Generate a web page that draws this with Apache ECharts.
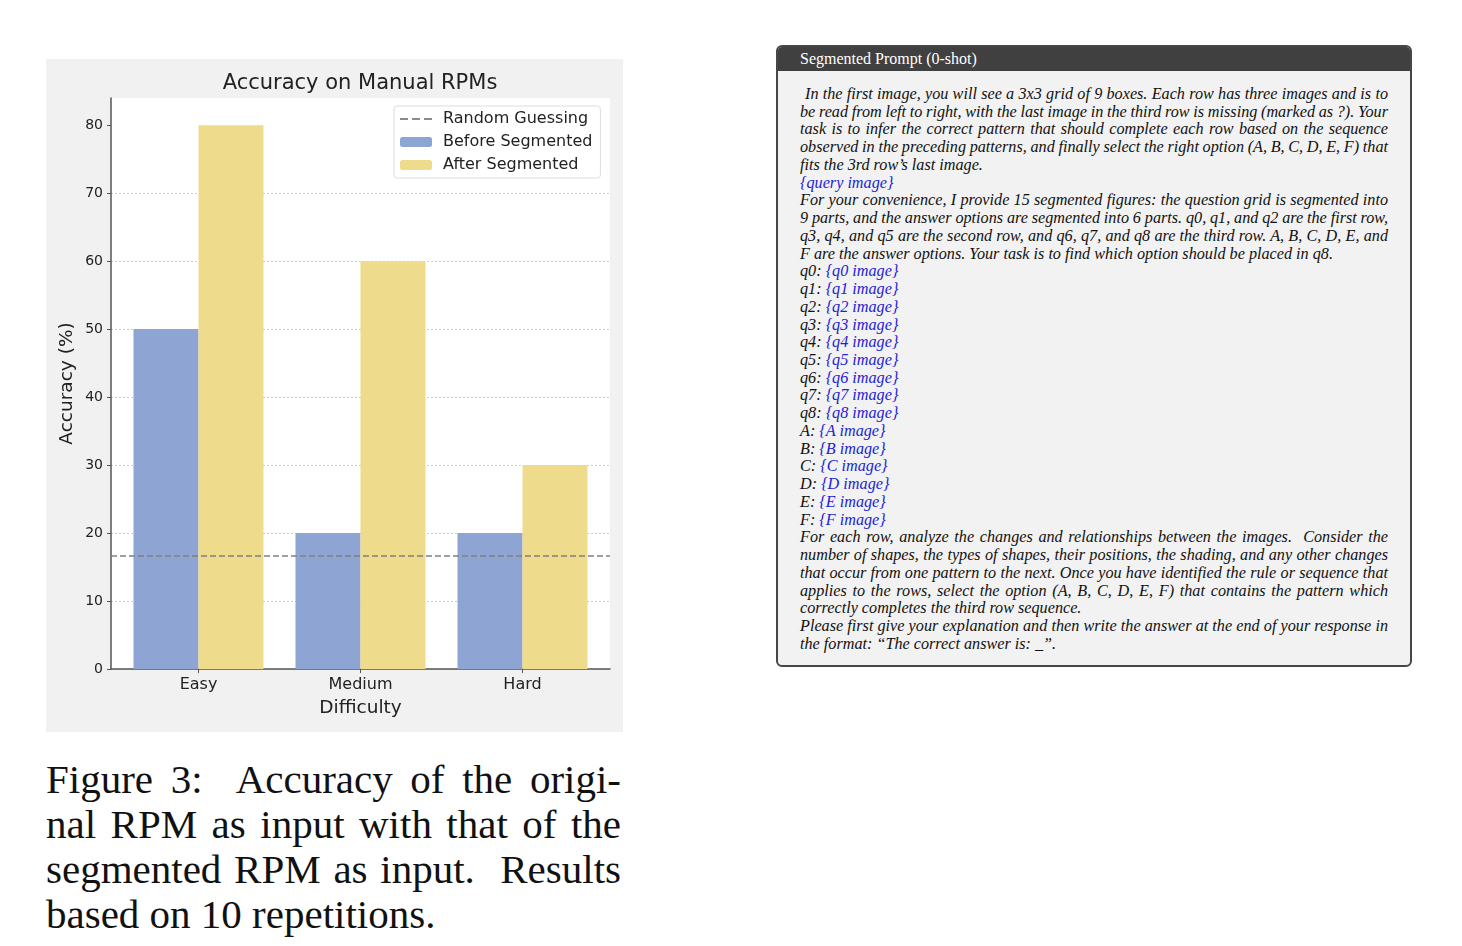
<!DOCTYPE html>
<html>
<head>
<meta charset="utf-8">
<script src="https://cdn.jsdelivr.net/npm/echarts@6/dist/echarts.min.js"></script>
<style>
  html, body { margin: 0; padding: 0; background: #ffffff; width: 1462px; height: 946px; overflow: hidden; }
  #chart { position: absolute; left: 46px; top: 59px; width: 577px; height: 673px; }
  #caption { position: absolute; left: 46px; top: 757px; width: 575px; font-family: "Liberation Serif", "Times New Roman", serif; font-size: 41px; line-height: 45px; color: #111; }
  .j { text-align: justify; text-align-last: justify; white-space: nowrap; }
  .l { text-align: left; white-space: nowrap; }
  #box { position: absolute; left: 776px; top: 45px; width: 632px; height: 618px; border: 2px solid #474747; border-radius: 6px; background: #f2f2f2; overflow: hidden; }
  #boxhead { height: 24px; background: #404040; color: #ffffff; font-family: "Liberation Serif", "Times New Roman", serif; font-size: 16px; line-height: 24px; padding-left: 22px; }
  #boxbody { position: absolute; left: 22px; top: 39px; width: 588px; font-family: "Liberation Serif", "Times New Roman", serif; font-style: italic; font-size: 16.2px; line-height: 17.74px; color: #111; }
  #boxbody .j { word-spacing: -1.2px; }
  .b { color: #2323d8; }
</style>
</head>
<body>
<div id="chart"></div>
<div id="caption">
  <div class="j">Figure 3:&nbsp; Accuracy of the origi-</div>
  <div class="j">nal RPM as input with that of the</div>
  <div class="j">segmented RPM as input.&nbsp; Results</div>
  <div class="l">based on 10 repetitions.</div>
</div>
<div id="box">
  <div id="boxhead">Segmented Prompt (0-shot)</div>
  <div id="boxbody">
    <div class="j" style="padding-left:5px">In the first image, you will see a 3x3 grid of 9 boxes. Each row has three images and is to</div>
    <div class="j">be read from left to right, with the last image in the third row is missing (marked as ?). Your</div>
    <div class="j">task is to infer the correct pattern that should complete each row based on the sequence</div>
    <div class="j">observed in the preceding patterns, and finally select the right option (A, B, C, D, E, F) that</div>
    <div class="l">fits the 3rd row’s last image.</div>
    <div class="l b">{query image}</div>
    <div class="j">For your convenience, I provide 15 segmented figures: the question grid is segmented into</div>
    <div class="j">9 parts, and the answer options are segmented into 6 parts. q0, q1, and q2 are the first row,</div>
    <div class="j">q3, q4, and q5 are the second row, and q6, q7, and q8 are the third row. A, B, C, D, E, and</div>
    <div class="l">F are the answer options. Your task is to find which option should be placed in q8.</div>
    <div class="l">q0: <span class="b">{q0 image}</span></div>
    <div class="l">q1: <span class="b">{q1 image}</span></div>
    <div class="l">q2: <span class="b">{q2 image}</span></div>
    <div class="l">q3: <span class="b">{q3 image}</span></div>
    <div class="l">q4: <span class="b">{q4 image}</span></div>
    <div class="l">q5: <span class="b">{q5 image}</span></div>
    <div class="l">q6: <span class="b">{q6 image}</span></div>
    <div class="l">q7: <span class="b">{q7 image}</span></div>
    <div class="l">q8: <span class="b">{q8 image}</span></div>
    <div class="l">A: <span class="b">{A image}</span></div>
    <div class="l">B: <span class="b">{B image}</span></div>
    <div class="l">C: <span class="b">{C image}</span></div>
    <div class="l">D: <span class="b">{D image}</span></div>
    <div class="l">E: <span class="b">{E image}</span></div>
    <div class="l">F: <span class="b">{F image}</span></div>
    <div class="j">For each row, analyze the changes and relationships between the images.&nbsp; Consider the</div>
    <div class="j">number of shapes, the types of shapes, their positions, the shading, and any other changes</div>
    <div class="j">that occur from one pattern to the next. Once you have identified the rule or sequence that</div>
    <div class="j">applies to the rows, select the option (A, B, C, D, E, F) that contains the pattern which</div>
    <div class="l">correctly completes the third row sequence.</div>
    <div class="j">Please first give your explanation and then write the answer at the end of your response in</div>
    <div class="l">the format: “The correct answer is: _”.</div>
  </div>
</div>
<script>
// ---- data ----
const categories = ['Easy', 'Medium', 'Hard'];
const beforeSegmented = [50, 20, 20];
const afterSegmented = [80, 60, 30];
const randomGuessing = 16.67;
const yTickValues = [0, 10, 20, 30, 40, 50, 60, 70, 80];
const seriesNames = ['Random Guessing', 'Before Segmented', 'After Segmented'];

// ---- chart ----
const xMin = -0.54, xMax = 2.54;
const font = 'DejaVu Sans';
const dashIcon = 'path://M0,0h0.05v0.05h-0.05z M0,4.2h8v1.6h-8z M12,4.2h8v1.6h-8z M24,4.2h8v1.6h-8z M31.95,9.95h0.05v0.05h-0.05z';
const chart = echarts.init(document.getElementById('chart'), null, { renderer: 'canvas' });
chart.setOption({
  backgroundColor: '#f1f1f1',
  animation: false,
  textStyle: { fontFamily: font },
  title: {
    text: 'Accuracy on Manual RPMs',
    left: 314, top: 14, textAlign: 'center', padding: 0,
    textStyle: { fontFamily: font, fontSize: 21, fontWeight: 'normal', color: '#222' }
  },
  legend: {
    orient: 'vertical',
    left: 348, top: 47,
    padding: [5, 8, 5, 6],
    itemWidth: 32, itemHeight: 10, itemGap: 7,
    backgroundColor: '#ffffff',
    borderColor: '#dddddd', borderWidth: 1, borderRadius: 3,
    textStyle: { fontFamily: font, fontSize: 16, color: '#222', padding: [0, 0, 0, 6] },
    data: [
      { name: seriesNames[0], icon: dashIcon, itemStyle: { color: '#666', borderWidth: 0 } },
      { name: seriesNames[1] },
      { name: seriesNames[2] }
    ]
  },
  grid: {
    left: 65, top: 39, width: 499, height: 571,
    show: true, backgroundColor: '#ffffff', borderWidth: 0
  },
  xAxis: {
    type: 'value', min: xMin, max: xMax,
    name: 'Difficulty', nameLocation: 'middle', nameGap: 30,
    nameTextStyle: { fontFamily: font, fontSize: 18.5, color: '#222' },
    axisLine: { show: true, onZero: false, lineStyle: { color: '#555', width: 1.5 } },
    axisTick: { show: true, customValues: [0, 1, 2], length: 4, lineStyle: { color: '#555' } },
    axisLabel: { customValues: [0, 1, 2], formatter: v => categories[Math.round(v)], fontFamily: font, fontSize: 16, color: '#222', margin: 8 },
    splitLine: { show: false }
  },
  yAxis: {
    type: 'value', min: 0, max: 84, interval: 10,
    name: 'Accuracy (%)', nameLocation: 'middle', nameGap: 34, nameMoveOverlap: false,
    nameTextStyle: { fontFamily: font, fontSize: 18.5, color: '#222' },
    axisLine: { show: true, onZero: false, lineStyle: { color: '#555', width: 1.5 } },
    axisTick: { show: true, customValues: yTickValues, length: 4, lineStyle: { color: '#555' } },
    axisLabel: { customValues: yTickValues, fontFamily: font, fontSize: 14, color: '#222', margin: 8 },
    splitLine: { show: true, showMaxLine: false, lineStyle: { color: '#cccccc', type: [2, 2], width: 1 } }
  },
  series: [
    {
      name: seriesNames[0], type: 'line', data: [], symbol: 'none', showSymbol: false,
      itemStyle: { color: '#555' },
      lineStyle: { color: '#555', type: [5, 3], width: 1.5 },
      markLine: {
        silent: true, symbol: 'none', label: { show: false },
        lineStyle: { color: '#808080', type: [6, 3], width: 1.6 },
        data: [{ yAxis: randomGuessing }]
      },
      z: 5
    },
    {
      name: seriesNames[1], type: 'bar', barWidth: 65, barGap: '0%',
      itemStyle: { color: '#8ea4d2' },
      data: beforeSegmented.map((v, i) => [i, v])
    },
    {
      name: seriesNames[2], type: 'bar', barWidth: 65, barGap: '0%',
      itemStyle: { color: '#eedb8b' },
      data: afterSegmented.map((v, i) => [i, v])
    }
  ]
});
</script>
</body>
</html>
